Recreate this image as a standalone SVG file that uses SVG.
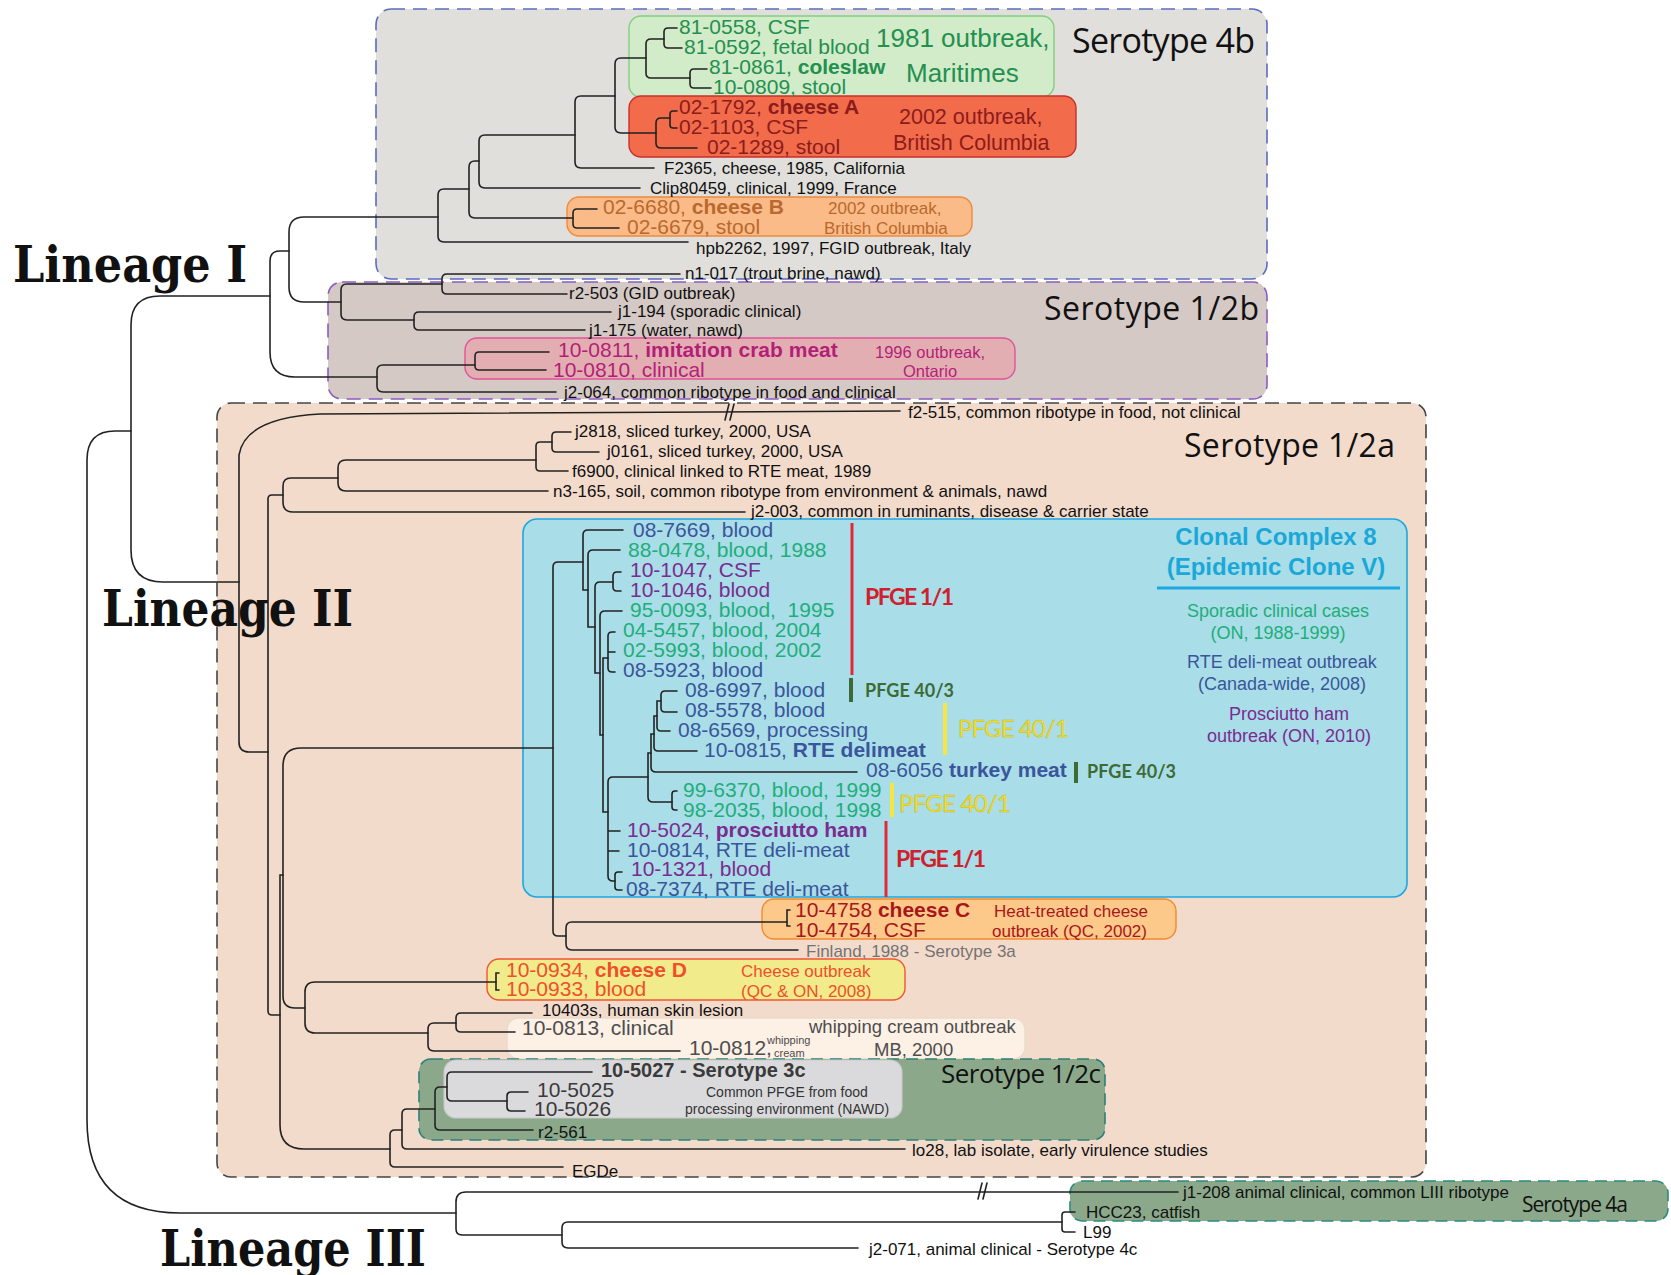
<svg xmlns="http://www.w3.org/2000/svg" width="1671" height="1275" viewBox="0 0 1671 1275">
  <style>
    .tree{fill:none;stroke:#222;stroke-width:1.6;stroke-linecap:round}
    .t{font-family:"Liberation Sans",Arial,sans-serif;font-size:17px;fill:#111}
    .m{font-size:21px}
    .b{font-weight:bold}
    .sero{font-family:"Open Sans","Liberation Sans",sans-serif;fill:#111}
    .lin{font-family:"DejaVu Serif",serif;font-weight:bold;font-size:50px;fill:#111}
    .pf{font-family:Lato,"Liberation Sans",sans-serif;font-weight:bold}
    .yel{fill:#f2e23a;stroke:#c9b820;stroke-width:0.5;font-weight:normal}
    .g4b{fill:#24904f}
    .red{fill:#8c1c1c}
    .org{fill:#b9692f}
    .pnk{fill:#b31f78}
    .blu{fill:#3a559b}
    .grn{fill:#1fae7a}
    .pur{fill:#7a2c90}
    .cc{fill:#a8161a}
    .cd{fill:#ef4f2b}
    .gry{fill:#4d4d4d}
    .mid{text-anchor:middle}
  </style>

  <!-- serotype backgrounds -->
  <g id="serotype-4b">
    <rect x="376" y="9" width="891" height="270" rx="15" fill="#e0dfdb" stroke="#5a6cc0" stroke-width="1.6" stroke-dasharray="14 8"/>
    <text class="sero" x="1072" y="53" font-size="34" textLength="183">Serotype 4b</text>
  </g>
  <g id="serotype-12b">
    <rect x="328" y="282" width="939" height="117" rx="14" fill="#d5c9c5" stroke="#8a5cc0" stroke-width="1.6" stroke-dasharray="14 8"/>
    <text class="sero" x="1044" y="320" font-size="32" textLength="215">Serotype 1/2b</text>
  </g>
  <g id="serotype-12a">
    <rect x="217" y="403" width="1209" height="774" rx="14" fill="#f3dbcc" stroke="#444" stroke-width="1.6" stroke-dasharray="14 8"/>
    <text class="sero" x="1184" y="457" font-size="32" textLength="211">Serotype 1/2a</text>
  </g>
  <g id="serotype-4a">
    <rect x="1070" y="1181" width="598" height="40" rx="12" fill="#8ba88a" stroke="#2a8a80" stroke-width="1.6" stroke-dasharray="12 7"/>
    <text class="sero" x="1522" y="1212" font-size="21" textLength="106">Serotype 4a</text>
  </g>

  <!-- outbreak highlight boxes -->
  <g id="box-1981">
    <rect x="629" y="16" width="425" height="81" rx="12" fill="#d2ebc9" stroke="#84cf7e" stroke-width="1.4"/>
  </g>
  <g id="box-2002-a">
    <rect x="629" y="96" width="447" height="61" rx="12" fill="#f26b4a" stroke="#c9302c" stroke-width="1.4"/>
  </g>
  <g id="box-2002-b">
    <rect x="567" y="197" width="405" height="39" rx="12" fill="#fbbb88" stroke="#ee8a3c" stroke-width="1.4"/>
  </g>
  <g id="box-1996">
    <rect x="465" y="338" width="550" height="41" rx="12" fill="#e3aeb2" stroke="#e2539b" stroke-width="1.4"/>
  </g>
  <g id="box-cc8">
    <rect x="523" y="519" width="884" height="378" rx="14" fill="#a9dde8" stroke="#1ba8e0" stroke-width="1.6"/>
  </g>
  <g id="box-cheese-c">
    <rect x="762" y="899" width="414" height="40" rx="12" fill="#fdc98a" stroke="#f28a2e" stroke-width="1.4"/>
  </g>
  <g id="box-cheese-d">
    <rect x="487" y="959" width="418" height="41" rx="12" fill="#f2eb8c" stroke="#f05535" stroke-width="1.4"/>
  </g>
  <g id="box-whipping">
    <rect x="507" y="1018" width="518" height="41" rx="12" fill="#fdf0e5" stroke="#e9dccb" stroke-width="1.4"/>
  </g>
  <g id="serotype-12c">
    <rect x="419" y="1059" width="686" height="81" rx="12" fill="#8ba88a" stroke="#2b8078" stroke-width="1.6" stroke-dasharray="12 7"/>
    <rect x="444" y="1060" width="458" height="58" rx="12" fill="#dadadd" stroke="#c9c9c9" stroke-width="1.2"/>
    <text class="sero" x="941" y="1083" font-size="26" textLength="160">Serotype 1/2c</text>
  </g>

  <!-- PFGE bars -->
  <g id="pfge-bars">
    <line x1="852" y1="523" x2="852" y2="675" stroke="#e02a3a" stroke-width="3"/>
    <line x1="851" y1="678" x2="851" y2="702" stroke="#3d6b35" stroke-width="4"/>
    <line x1="945" y1="703" x2="945" y2="755" stroke="#f5e642" stroke-width="4"/>
    <line x1="1076" y1="762" x2="1076" y2="783" stroke="#3d6b35" stroke-width="4"/>
    <line x1="892" y1="783" x2="892" y2="817" stroke="#f5e642" stroke-width="4"/>
    <line x1="886" y1="821" x2="886" y2="897" stroke="#e02a3a" stroke-width="3"/>
    <line x1="1157" y1="588" x2="1400" y2="588" stroke="#1ba8e0" stroke-width="3"/>
  </g>

  <!-- tree connectors -->
  <g id="connectors" class="tree">
    <!-- lineage I, serotype 4b -->
    <path d="M677 28H668Q664 28 664 32V44Q664 48 668 48H682"/>
    <path d="M707 69H694Q690 69 690 73V84Q690 88 694 88H711"/>
    <path d="M664 39H651Q646 39 646 44V73Q646 78 651 78H690"/>
    <path d="M677 111H673Q670 111 670 114V125Q670 128 673 128H677"/>
    <path d="M670 118H661Q656 118 656 123V143Q656 148 661 148H697"/>
    <path d="M646 58H621Q615 58 615 64V127Q615 133 621 133H656"/>
    <path d="M615 96H581Q575 96 575 102V162Q575 168 581 168H654"/>
    <path d="M575 135H485Q479 135 479 141V182Q479 188 485 188H640"/>
    <path d="M597 209H577Q573 209 573 213V224Q573 228 577 228H619"/>
    <path d="M479 161H475Q469 161 469 167V212Q469 218 475 218H573"/>
    <path d="M469 189H444Q438 189 438 195V236Q438 242 444 242H688"/>
    <!-- serotype 1/2b -->
    <path d="M680 274H447Q442 274 442 279V289Q442 294 447 294H567"/>
    <path d="M611 312H419Q414 312 414 317V325Q414 330 419 330H585"/>
    <path d="M442 284H347Q341 284 341 290V314Q341 320 347 320H414"/>
    <path d="M438 217H304Q289 217 289 232V287Q289 302 304 302H341"/>
    <path d="M549 352H479Q475 352 475 356V366Q475 370 479 370H546"/>
    <path d="M475 365H383Q377 365 377 371V386Q377 392 383 392H556"/>
    <path d="M289 251H280Q270 251 270 261V352Q270 377 295 377H377"/>
    <path d="M270 296H160Q131 296 131 325V550Q131 582 163 582H239"/>
    <!-- root -->
    <path d="M131 431H115Q87 431 87 460V1120Q87 1213 180 1213H456"/>
    <!-- lineage II -->
    <path d="M900 411L320 414Q245 418 239 455V742Q239 752 249 752H268"/>
    <path d="M725 420L729 404M730 420L734 404"/>
    <path d="M283 495H272Q268 495 268 499V1011Q268 1015 272 1015H280"/>
    <path d="M338 478H291Q283 478 283 486V502Q283 512 293 512H745"/>
    <path d="M536 460H346Q338 460 338 468V483Q338 491 346 491H548"/>
    <path d="M552 442H540Q536 442 536 446V467Q536 471 540 471H568"/>
    <path d="M571 432H556Q552 432 552 436V448Q552 452 556 452H599"/>
    <path d="M283 875H280V1125Q280 1149 304 1149H390"/>
    <path d="M553 748H301Q283 748 283 766V996Q283 1008 295 1008H305"/>
    <path d="M583 562H558Q553 562 553 567V931Q553 936 558 936H566"/>
    <path d="M787 922H572Q566 922 566 928V944Q566 950 572 950H798"/>
    <path d="M790 910H787V926H790"/>
    <!-- clonal complex 8 -->
    <path d="M623 530H588Q583 530 583 535V590H588"/>
    <path d="M620 550H593Q588 550 588 555V627H595"/>
    <path d="M613 582H600Q595 582 595 587V673H600"/>
    <path d="M621 572H617Q613 572 613 576V587Q613 591 617 591H621"/>
    <path d="M622 611H605Q600 611 600 616V735H603"/>
    <path d="M608 658H603V812H608"/>
    <path d="M615 632H612Q608 632 608 636V668Q608 672 612 672H615M608 652H615"/>
    <path d="M648 777H613Q608 777 608 782V876Q608 881 613 881H615M608 831H620M608 851H619"/>
    <path d="M651 753H648V797Q648 802 653 802H672"/>
    <path d="M654 734H651V767Q651 772 656 772H857"/>
    <path d="M657 716H654V747Q654 751 658 751H697"/>
    <path d="M661 701H657V727Q657 731 661 731H670"/>
    <path d="M677 691H665Q661 691 661 695V708Q661 712 665 712H677"/>
    <path d="M677 791H675Q672 791 672 794V807Q672 810 675 810H677"/>
    <path d="M622 872H618Q615 872 615 875V887Q615 890 618 890H622"/>
    <!-- cheese D, whipping cream, 1/2c -->
    <path d="M496 982H315Q305 982 305 992V1023Q305 1033 315 1033H428"/>
    <path d="M499 973H496V990H499"/>
    <path d="M456 1023H434Q428 1023 428 1029V1045Q428 1051 434 1051H680"/>
    <path d="M532 1013H461Q456 1013 456 1018V1027Q456 1032 461 1032H515"/>
    <path d="M402 1130H395Q390 1130 390 1135V1162Q390 1167 395 1167H563"/>
    <path d="M435 1109H407Q402 1109 402 1114V1144Q402 1149 407 1149H905"/>
    <path d="M447 1087H440Q435 1087 435 1092V1125Q435 1130 440 1130H533"/>
    <path d="M592 1072H452Q447 1072 447 1077V1096Q447 1101 452 1101H507"/>
    <path d="M528 1092H511Q507 1092 507 1096V1107Q507 1111 511 1111H525"/>
    <!-- lineage III -->
    <path d="M1178 1192H466Q456 1192 456 1202V1229Q456 1235 462 1235H562"/>
    <path d="M978 1199L982 1183M983 1199L987 1183"/>
    <path d="M1062 1222H568Q562 1222 562 1228V1242Q562 1248 568 1248H858"/>
    <path d="M1075 1212H1065Q1062 1212 1062 1215V1229Q1062 1232 1065 1232H1075"/>
  </g>

  <!-- lineage titles -->
  <g id="lineage-labels">
    <text class="lin" x="13" y="282" textLength="234" lengthAdjust="spacingAndGlyphs">Lineage I</text>
    <text class="lin" x="102" y="626" textLength="251" lengthAdjust="spacingAndGlyphs">Lineage II</text>
    <text class="lin" x="160" y="1266" textLength="266" lengthAdjust="spacingAndGlyphs">Lineage III</text>
  </g>

  <!-- serotype 4b leaves -->
  <g id="leaves-4b" class="t">
    <text class="m g4b" x="679" y="34">81-0558, CSF</text>
    <text class="m g4b" x="684" y="54">81-0592, fetal blood</text>
    <text class="m g4b" x="709" y="74">81-0861, <tspan class="b">coleslaw</tspan></text>
    <text class="m g4b" x="713" y="94">10-0809, stool</text>
    <text class="g4b" x="876" y="47" font-size="26">1981 outbreak,</text>
    <text class="g4b" x="906" y="82" font-size="26">Maritimes</text>
    <text class="m red" x="679" y="114">02-1792, <tspan class="b">cheese A</tspan></text>
    <text class="m red" x="679" y="134">02-1103, CSF</text>
    <text class="m red" x="707" y="154">02-1289, stool</text>
    <text class="red" x="899" y="124" font-size="21.5">2002 outbreak,</text>
    <text class="red" x="893" y="150" font-size="21.5">British Columbia</text>
    <text x="664" y="174">F2365, cheese, 1985, California</text>
    <text x="650" y="194">Clip80459, clinical, 1999, France</text>
    <text class="m org" x="603" y="214">02-6680, <tspan class="b">cheese B</tspan></text>
    <text class="m org" x="627" y="234">02-6679, stool</text>
    <text class="org" x="828" y="214">2002 outbreak,</text>
    <text class="org" x="824" y="234">British Columbia</text>
    <text x="696" y="254">hpb2262, 1997, FGID outbreak, Italy</text>
  </g>

  <!-- serotype 1/2b leaves -->
  <g id="leaves-12b" class="t">
    <text x="685" y="279">n1-017 (trout brine, nawd)</text>
    <text x="569" y="299">r2-503 (GID outbreak)</text>
    <text x="618" y="317">j1-194 (sporadic clinical)</text>
    <text x="589" y="336">j1-175 (water, nawd)</text>
    <text class="m pnk" x="558" y="357">10-0811, <tspan class="b">imitation crab meat</tspan></text>
    <text class="m pnk" x="553" y="377">10-0810, clinical</text>
    <text class="pnk" x="875" y="358" font-size="16.5">1996 outbreak,</text>
    <text class="pnk" x="903" y="377" font-size="16.5">Ontario</text>
    <text x="564" y="398">j2-064, common ribotype in food and clinical</text>
  </g>

  <!-- serotype 1/2a upper leaves -->
  <g id="leaves-12a" class="t">
    <text x="908" y="418">f2-515, common ribotype in food, not clinical</text>
    <text x="575" y="437">j2818, sliced turkey, 2000, USA</text>
    <text x="607" y="457">j0161, sliced turkey, 2000, USA</text>
    <text x="572" y="477">f6900, clinical linked to RTE meat, 1989</text>
    <text x="553" y="497">n3-165, soil, common ribotype from environment &amp; animals, nawd</text>
    <text x="751" y="517">j2-003, common in ruminants, disease &amp; carrier state</text>
  </g>

  <!-- clonal complex 8 leaves -->
  <g id="leaves-cc8" class="t">
    <text class="m blu" x="633" y="537">08-7669, blood</text>
    <text class="m grn" x="628" y="557">88-0478, blood, 1988</text>
    <text class="m pur" x="630" y="577">10-1047, CSF</text>
    <text class="m pur" x="630" y="597">10-1046, blood</text>
    <text class="m grn" x="630" y="617" style="white-space:pre">95-0093, blood,  1995</text>
    <text class="m grn" x="623" y="637">04-5457, blood, 2004</text>
    <text class="m grn" x="623" y="657">02-5993, blood, 2002</text>
    <text class="m blu" x="623" y="677">08-5923, blood</text>
    <text class="m blu" x="685" y="697">08-6997, blood</text>
    <text class="m blu" x="685" y="717">08-5578, blood</text>
    <text class="m blu" x="678" y="737">08-6569, processing</text>
    <text class="m blu" x="704" y="757">10-0815, <tspan class="b">RTE delimeat</tspan></text>
    <text class="m blu" x="866" y="777">08-6056 <tspan class="b">turkey meat</tspan></text>
    <text class="m grn" x="683" y="797">99-6370, blood, 1999</text>
    <text class="m grn" x="683" y="817">98-2035, blood, 1998</text>
    <text class="m pur" x="627" y="837">10-5024, <tspan class="b">prosciutto ham</tspan></text>
    <text class="m blu" x="627" y="857">10-0814, RTE deli-meat</text>
    <text class="m pur" x="631" y="876">10-1321, blood</text>
    <text class="m blu" x="626" y="896">08-7374, RTE deli-meat</text>
  </g>

  <!-- PFGE pattern labels -->
  <g id="pfge-labels" class="pf">
    <text x="865" y="605" font-size="23" fill="#d0202e" textLength="89">PFGE 1/1</text>
    <text x="865" y="697" font-size="18" fill="#3d6b35" textLength="89">PFGE 40/3</text>
    <text class="yel" x="958" y="737" font-size="24" textLength="111">PFGE 40/1</text>
    <text x="1087" y="778" font-size="18" fill="#3d6b35" textLength="89">PFGE 40/3</text>
    <text class="yel" x="899" y="812" font-size="24" textLength="112">PFGE 40/1</text>
    <text x="896" y="867" font-size="23" fill="#d0202e" textLength="90">PFGE 1/1</text>
  </g>

  <!-- clonal complex 8 legend -->
  <g id="cc8-legend" class="t mid">
    <text class="b" x="1276" y="545" font-size="24" fill="#1ba8d8">Clonal Complex 8</text>
    <text class="b" x="1276" y="575" font-size="24" fill="#1ba8d8">(Epidemic Clone V)</text>
    <text class="grn" x="1278" y="617" font-size="18">Sporadic clinical cases</text>
    <text class="grn" x="1278" y="639" font-size="18">(ON, 1988-1999)</text>
    <text class="blu" x="1282" y="668" font-size="18">RTE deli-meat outbreak</text>
    <text class="blu" x="1282" y="690" font-size="18">(Canada-wide, 2008)</text>
    <text class="pur" x="1289" y="720" font-size="18">Prosciutto ham</text>
    <text class="pur" x="1289" y="742" font-size="18">outbreak (ON, 2010)</text>
  </g>

  <!-- lower lineage II leaves -->
  <g id="leaves-lower" class="t">
    <text class="m cc" x="795" y="917">10-4758 <tspan class="b">cheese C</tspan></text>
    <text class="m cc" x="795" y="937">10-4754, CSF</text>
    <text class="cc" x="994" y="917">Heat-treated cheese</text>
    <text class="cc" x="992" y="937">outbreak (QC, 2002)</text>
    <text x="806" y="957" fill="#737373">Finland, 1988 - Serotype 3a</text>
    <text class="m cd" x="506" y="977">10-0934, <tspan class="b">cheese D</tspan></text>
    <text class="m cd" x="506" y="996">10-0933, blood</text>
    <text class="cd" x="741" y="977">Cheese outbreak</text>
    <text class="cd" x="741" y="997">(QC &amp; ON, 2008)</text>
    <text x="542" y="1016">10403s, human skin lesion</text>
    <text class="m gry" x="522" y="1035">10-0813, clinical</text>
    <text class="m gry" x="689" y="1055">10-0812,</text>
    <text class="gry" x="767" y="1044" font-size="11">whipping</text>
    <text class="gry" x="774" y="1057" font-size="11">cream</text>
    <text class="gry" x="809" y="1033" font-size="18.5">whipping cream outbreak</text>
    <text class="gry" x="874" y="1056" font-size="18.5">MB, 2000</text>
    <text class="b" x="601" y="1077" font-size="20" fill="#3a3a3a">10-5027 - Serotype 3c</text>
    <text class="m" x="537" y="1097" fill="#3a3a3a">10-5025</text>
    <text class="m" x="534" y="1116" fill="#3a3a3a">10-5026</text>
    <text x="706" y="1097" font-size="14" fill="#333">Common PFGE from food</text>
    <text x="685" y="1114" font-size="14" fill="#333">processing environment (NAWD)</text>
    <text x="538" y="1138">r2-561</text>
    <text x="912" y="1156">lo28, lab isolate, early virulence studies</text>
    <text x="572" y="1177">EGDe</text>
  </g>

  <!-- lineage III leaves -->
  <g id="leaves-lineage3" class="t">
    <text x="1183" y="1198">j1-208 animal clinical, common LIII ribotype</text>
    <text x="1086" y="1218">HCC23, catfish</text>
    <text x="1083" y="1238">L99</text>
    <text x="869" y="1255">j2-071, animal clinical - Serotype 4c</text>
  </g>
</svg>
